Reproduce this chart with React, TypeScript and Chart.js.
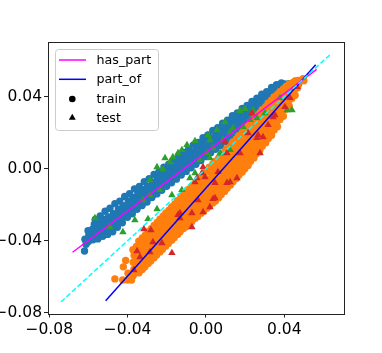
import React, { useEffect, useRef } from "react";
import { Chart, registerables } from "chart.js";

Chart.register(...registerables);

// ---- axis ticks ----
const xTickValues = [-0.08, -0.04, 0, 0.04];
const xTickLabels = ["\u22120.08", "\u22120.04", "0.00", "0.04"];
const yTickValues = [-0.08, -0.04, 0, 0.04];
const yTickLabels = ["\u22120.08", "\u22120.04", "0.00", "0.04"];
const xRange = [-0.0809, 0.0702];
const yRange = [-0.0807, 0.0702];

// ---- legend ----
const legendLabels = ["has_part", "part_of", "train", "test"];

// ---- fitted / reference lines (endpoints) ----
const identityLineX = [-0.074, 0.0635];
const identityLineY = [-0.074, 0.0635];
const hasPartFitX = [-0.0681, 0.0565];
const hasPartFitY = [-0.0464, 0.0552];
const partOfFitX = [-0.0512, 0.056];
const partOfFitY = [-0.0733, 0.0578];

// ---- has_part, train (blue circles) ----
const hasPartTrain: number[][] = [
  [-0.062, -0.0457], [-0.0618, -0.0392], [-0.0612, -0.042],
  [-0.06, -0.0405], [-0.0598, -0.037], [-0.0602, -0.0345],
  [-0.0577, -0.0395], [-0.0573, -0.0365], [-0.0578, -0.0335], [-0.057, -0.0308],
  [-0.0552, -0.039], [-0.0548, -0.036], [-0.0551, -0.033], [-0.0546, -0.03],
  [-0.0527, -0.0375], [-0.0523, -0.0345], [-0.0525, -0.0315], [-0.0521, -0.028],
  [-0.0502, -0.0365], [-0.0498, -0.033], [-0.0501, -0.03], [-0.0497, -0.0268],
  [-0.0476, -0.035], [-0.0474, -0.0315], [-0.0477, -0.0285], [-0.0472, -0.025],
  [-0.0452, -0.0325], [-0.0449, -0.029], [-0.0451, -0.026], [-0.0447, -0.0225],
  [-0.0427, -0.03], [-0.0424, -0.0268], [-0.0426, -0.0238], [-0.0423, -0.0205],
  [-0.0401, -0.027], [-0.0399, -0.024], [-0.0402, -0.021], [-0.0397, -0.018],
  [-0.0376, -0.025], [-0.0374, -0.022], [-0.0377, -0.019], [-0.0372, -0.016],
  [-0.0352, -0.0225], [-0.0349, -0.0195], [-0.0351, -0.0165], [-0.0348, -0.0135],
  [-0.0326, -0.0205], [-0.0324, -0.0175], [-0.0327, -0.0148], [-0.0322, -0.0115],
  [-0.0301, -0.0185], [-0.0299, -0.0155], [-0.0302, -0.0125], [-0.0298, -0.0098],
  [-0.0276, -0.016], [-0.0274, -0.0132], [-0.0277, -0.0102], [-0.0273, -0.0075],
  [-0.0251, -0.014], [-0.0249, -0.0112], [-0.0252, -0.0082], [-0.0248, -0.005],
  [-0.0226, -0.012], [-0.0224, -0.009], [-0.0227, -0.006], [-0.0223, -0.003],
  [-0.0201, -0.0098], [-0.0199, -0.007], [-0.0202, -0.004], [-0.0198, -0.0012],
  [-0.0176, -0.0078], [-0.0174, -0.005], [-0.0177, -0.002], [-0.0173, 0.001],
  [-0.0151, -0.0058], [-0.0149, -0.0028], [-0.0152, 0.0002], [-0.0148, 0.0032],
  [-0.0126, -0.0035], [-0.0124, -0.0008], [-0.0127, 0.0022], [-0.0123, 0.0055],
  [-0.0101, -0.0015], [-0.0099, 0.0012], [-0.0102, 0.0042], [-0.0098, 0.0072],
  [-0.0076, 0.0005], [-0.0074, 0.0032], [-0.0077, 0.0062], [-0.0073, 0.0092],
  [-0.0051, 0.0025], [-0.0049, 0.0052], [-0.0052, 0.0082], [-0.0048, 0.0112],
  [-0.0026, 0.0045], [-0.0024, 0.0072], [-0.0027, 0.0102], [-0.0023, 0.0135],
  [-0.0001, 0.0068], [0.0001, 0.0094], [-0.0002, 0.0124], [0.0002, 0.0155],
  [0.0024, 0.0088], [0.0026, 0.0114], [0.0023, 0.0145], [0.0027, 0.0172],
  [0.0049, 0.0108], [0.0051, 0.0135], [0.0048, 0.0165], [0.0052, 0.0195],
  [0.0074, 0.0128], [0.0076, 0.0155], [0.0073, 0.0185], [0.0077, 0.0215],
  [0.0099, 0.015], [0.0101, 0.0176], [0.0098, 0.0205], [0.0102, 0.0238],
  [0.0124, 0.017], [0.0126, 0.0196], [0.0123, 0.0225], [0.0127, 0.0255],
  [0.0149, 0.019], [0.0151, 0.0216], [0.0148, 0.0246], [0.0152, 0.0278],
  [0.0174, 0.021], [0.0176, 0.0236], [0.0173, 0.0266], [0.0177, 0.0296],
  [0.0199, 0.0232], [0.0201, 0.0258], [0.0198, 0.0288], [0.0202, 0.032],
  [0.0224, 0.0252], [0.0226, 0.0278], [0.0223, 0.0308], [0.0227, 0.034],
  [0.0249, 0.0274], [0.0251, 0.03], [0.0248, 0.033], [0.0252, 0.036],
  [0.0274, 0.0295], [0.0276, 0.032], [0.0273, 0.035], [0.0277, 0.038],
  [0.0299, 0.0318], [0.0301, 0.0342], [0.0298, 0.0372], [0.0302, 0.04],
  [0.0324, 0.0338], [0.0326, 0.0362], [0.0323, 0.0392], [0.0327, 0.0425],
  [0.0349, 0.0358], [0.0351, 0.0382], [0.0348, 0.0412], [0.0352, 0.044],
  [0.0374, 0.038], [0.0376, 0.0405], [0.0373, 0.0432], [0.0377, 0.0458],
  [0.0399, 0.0402], [0.0401, 0.0425], [0.0398, 0.0452], [0.0402, 0.047],
  [0.0424, 0.0425], [0.0426, 0.045], [0.0423, 0.0472],
  [0.0449, 0.0448], [0.0451, 0.0472], [0.0455, 0.0485],
  [0.0473, 0.047], [0.0478, 0.0488],
  // upper fringe of the cloud
  [-0.0565, -0.0282], [-0.054, -0.0262], [-0.0515, -0.0236], [-0.049, -0.022],
  [-0.0465, -0.0194], [-0.044, -0.018], [-0.0415, -0.0154], [-0.039, -0.0139],
  [-0.0365, -0.0112], [-0.034, -0.0098], [-0.0315, -0.0072], [-0.029, -0.0056],
  [-0.0265, -0.0032], [-0.024, -0.0016], [-0.0215, 0.0009], [-0.019, 0.0025],
  [-0.0165, 0.0049], [-0.014, 0.0066], [-0.0115, 0.009], [-0.009, 0.0106],
  [-0.0065, 0.0131], [-0.004, 0.0146], [-0.0015, 0.0172], [0.001, 0.0188],
  [0.0035, 0.0213], [0.006, 0.0228], [0.0085, 0.0253], [0.011, 0.0269],
  [0.0135, 0.0294], [0.016, 0.0309], [0.0185, 0.0334], [0.021, 0.0351],
  [0.0235, 0.0374], [0.026, 0.0391], [0.0285, 0.0414], [0.031, 0.0428],
  [0.0335, 0.0451], [0.036, 0.0466], [0.0385, 0.0476],
];

// ---- part_of, train (orange circles) ----
const partOfTrain: number[][] = [
  [-0.0465, -0.0612], [-0.0425, -0.0618], [-0.0422, -0.0545], [-0.041, -0.051],
  [-0.04, -0.0618], [-0.0398, -0.058], [-0.038, -0.0618],
  [-0.0372, -0.0595], [-0.0368, -0.0558], [-0.0371, -0.052], [-0.0367, -0.0482], [-0.0373, -0.045],
  [-0.0342, -0.0578], [-0.0338, -0.054], [-0.0341, -0.0502], [-0.0337, -0.0465], [-0.034, -0.0428], [-0.0343, -0.0402],
  [-0.0312, -0.0545], [-0.0308, -0.0508], [-0.0311, -0.047], [-0.0307, -0.0435], [-0.031, -0.0398], [-0.0309, -0.0368],
  [-0.0282, -0.0512], [-0.0278, -0.0478], [-0.0281, -0.044], [-0.0277, -0.0405], [-0.028, -0.0368], [-0.0279, -0.0333],
  [-0.0252, -0.048], [-0.0248, -0.0445], [-0.0251, -0.041], [-0.0247, -0.0372], [-0.025, -0.0335], [-0.0249, -0.0298],
  [-0.0222, -0.0447], [-0.0218, -0.0412], [-0.0221, -0.0375], [-0.0217, -0.0338], [-0.022, -0.03], [-0.0219, -0.0264],
  [-0.0192, -0.0415], [-0.0188, -0.0378], [-0.0191, -0.0342], [-0.0187, -0.0305], [-0.019, -0.0268], [-0.0189, -0.023],
  [-0.0162, -0.0383], [-0.0158, -0.0347], [-0.0161, -0.031], [-0.0157, -0.0272], [-0.016, -0.0235], [-0.0159, -0.0196],
  [-0.0132, -0.035], [-0.0128, -0.0314], [-0.0131, -0.0278], [-0.0127, -0.024], [-0.013, -0.0202], [-0.0129, -0.0163],
  [-0.0102, -0.0322], [-0.0098, -0.0285], [-0.0101, -0.0248], [-0.0097, -0.021], [-0.01, -0.017], [-0.0099, -0.013],
  [-0.0072, -0.0293], [-0.0068, -0.0256], [-0.0071, -0.0218], [-0.0067, -0.018], [-0.007, -0.014], [-0.0069, -0.0098],
  [-0.0042, -0.0265], [-0.0038, -0.0228], [-0.0041, -0.019], [-0.0037, -0.015], [-0.004, -0.011], [-0.0039, -0.0062],
  [-0.0012, -0.0237], [-0.0008, -0.02], [-0.0011, -0.0162], [-0.0007, -0.0122], [-0.001, -0.0082], [-0.0009, -0.0045], [-0.0013, -0.0027],
  [0.0018, -0.0208], [0.0022, -0.0172], [0.0019, -0.0135], [0.0023, -0.0096], [0.002, -0.0058], [0.0021, -0.002], [0.0017, 0.0008],
  [0.0048, -0.018], [0.0052, -0.0143], [0.0049, -0.0105], [0.0053, -0.0068], [0.005, -0.003], [0.0051, 0.0008], [0.0047, 0.0042],
  [0.0078, -0.0144], [0.0082, -0.0108], [0.0079, -0.007], [0.0083, -0.0032], [0.008, 0.0006], [0.0081, 0.0044], [0.0077, 0.0078],
  [0.0108, -0.0108], [0.0112, -0.0072], [0.0109, -0.0034], [0.0113, 0.0004], [0.011, 0.0042], [0.0111, 0.008], [0.0107, 0.0112],
  [0.0138, -0.0072], [0.0142, -0.0036], [0.0139, 0.0002], [0.0143, 0.004], [0.014, 0.0078], [0.0141, 0.0115], [0.0137, 0.0148],
  [0.0168, -0.0036], [0.0172, 0.0], [0.0169, 0.0038], [0.0173, 0.0076], [0.017, 0.0114], [0.0171, 0.015], [0.0167, 0.0183],
  [0.0198, 0.0], [0.0202, 0.0036], [0.0199, 0.0074], [0.0203, 0.0112], [0.02, 0.015], [0.0201, 0.0188], [0.0197, 0.022],
  [0.0228, 0.0042], [0.0232, 0.0078], [0.0229, 0.0115], [0.0233, 0.0152], [0.023, 0.019], [0.0231, 0.0226], [0.0227, 0.0258],
  [0.0258, 0.0084], [0.0262, 0.012], [0.0259, 0.0157], [0.0263, 0.0193], [0.026, 0.023], [0.0261, 0.0265], [0.0257, 0.0293],
  [0.0288, 0.0126], [0.0292, 0.0162], [0.0289, 0.0198], [0.0293, 0.0234], [0.029, 0.027], [0.0291, 0.0303], [0.0287, 0.0328],
  [0.0318, 0.0168], [0.0322, 0.0204], [0.0319, 0.024], [0.0323, 0.0276], [0.032, 0.031], [0.0321, 0.0342], [0.0317, 0.0364],
  [0.0348, 0.0215], [0.0352, 0.025], [0.0349, 0.0285], [0.0353, 0.032], [0.035, 0.0355], [0.0351, 0.0385], [0.0347, 0.0398],
  [0.0378, 0.0273], [0.0382, 0.0308], [0.0379, 0.0343], [0.0383, 0.0378], [0.038, 0.041], [0.0377, 0.0428],
  [0.0408, 0.033], [0.0412, 0.0365], [0.0409, 0.04], [0.0413, 0.0432], [0.041, 0.0458],
  [0.0438, 0.039], [0.0442, 0.0425], [0.0439, 0.0455], [0.0443, 0.0478],
  [0.0468, 0.045], [0.0472, 0.0475], [0.0469, 0.049],
  [0.0495, 0.05], [0.05, 0.0488],
  // points between the columns above
  [-0.0355, -0.0577], [-0.0355, -0.054], [-0.0355, -0.0502], [-0.0355, -0.0464], [-0.0355, -0.0432],
  [-0.0325, -0.056], [-0.0325, -0.0522], [-0.0325, -0.0484], [-0.0325, -0.0447], [-0.0325, -0.041], [-0.0325, -0.0384],
  [-0.0295, -0.0527], [-0.0295, -0.049], [-0.0295, -0.0452], [-0.0295, -0.0417], [-0.0295, -0.038], [-0.0295, -0.035],
  [-0.0265, -0.0494], [-0.0265, -0.046], [-0.0265, -0.0422], [-0.0265, -0.0387], [-0.0265, -0.035], [-0.0265, -0.0315],
  [-0.0235, -0.0462], [-0.0235, -0.0427], [-0.0235, -0.0392], [-0.0235, -0.0354], [-0.0235, -0.0317], [-0.0235, -0.028],
  [-0.0205, -0.0429], [-0.0205, -0.0394], [-0.0205, -0.0357], [-0.0205, -0.032], [-0.0205, -0.0282], [-0.0205, -0.0246],
  [-0.0175, -0.0397], [-0.0175, -0.036], [-0.0175, -0.0324], [-0.0175, -0.0287], [-0.0175, -0.025], [-0.0175, -0.0212],
  [-0.0145, -0.0365], [-0.0145, -0.0329], [-0.0145, -0.0292], [-0.0145, -0.0254], [-0.0145, -0.0217], [-0.0145, -0.0178],
  [-0.0115, -0.0332], [-0.0115, -0.0296], [-0.0115, -0.026], [-0.0115, -0.0222], [-0.0115, -0.0184], [-0.0115, -0.0145],
  [-0.0085, -0.0304], [-0.0085, -0.0267], [-0.0085, -0.023], [-0.0085, -0.0192], [-0.0085, -0.0152], [-0.0085, -0.0112],
  [-0.0055, -0.0275], [-0.0055, -0.0238], [-0.0055, -0.02], [-0.0055, -0.0162], [-0.0055, -0.0122], [-0.0055, -0.008],
  [-0.0025, -0.0247], [-0.0025, -0.021], [-0.0025, -0.0172], [-0.0025, -0.0132], [-0.0025, -0.0092], [-0.0025, -0.0044],
  [0.0005, -0.0219], [0.0005, -0.0182], [0.0005, -0.0144], [0.0005, -0.0104], [0.0005, -0.0064], [0.0005, -0.001],
  [0.0035, -0.019], [0.0035, -0.0154], [0.0035, -0.0117], [0.0035, -0.0078], [0.0035, -0.004], [0.0035, -0.0002], [0.0035, 0.0026],
  [0.0065, -0.0162], [0.0065, -0.0125], [0.0065, -0.0087], [0.0065, -0.005], [0.0065, -0.0012], [0.0065, 0.0026], [0.0065, 0.006],
  [0.0095, -0.0126], [0.0095, -0.009], [0.0095, -0.0052], [0.0095, -0.0014], [0.0095, 0.0024], [0.0095, 0.0062], [0.0095, 0.0094],
  [0.0125, -0.009], [0.0125, -0.0054], [0.0125, -0.0016], [0.0125, 0.0022], [0.0125, 0.006], [0.0125, 0.0098], [0.0125, 0.0128],
  [0.0155, -0.0054], [0.0155, -0.0018], [0.0155, 0.002], [0.0155, 0.0058], [0.0155, 0.0096], [0.0155, 0.0133], [0.0155, 0.0165],
  [0.0185, -0.0018], [0.0185, 0.0018], [0.0185, 0.0056], [0.0185, 0.0094], [0.0185, 0.0132], [0.0185, 0.0168], [0.0185, 0.02],
  [0.0215, 0.0018], [0.0215, 0.0054], [0.0215, 0.0092], [0.0215, 0.013], [0.0215, 0.0168], [0.0215, 0.0205], [0.0215, 0.0238],
  [0.0245, 0.006], [0.0245, 0.0096], [0.0245, 0.0133], [0.0245, 0.017], [0.0245, 0.0208], [0.0245, 0.0243], [0.0245, 0.0275],
  [0.0275, 0.0102], [0.0275, 0.0138], [0.0275, 0.0175], [0.0275, 0.0211], [0.0275, 0.0248], [0.0275, 0.0282], [0.0275, 0.031],
  [0.0305, 0.0144], [0.0305, 0.018], [0.0305, 0.0216], [0.0305, 0.0252], [0.0305, 0.0288], [0.0305, 0.032], [0.0305, 0.0345],
  [0.0335, 0.0186], [0.0335, 0.0222], [0.0335, 0.0258], [0.0335, 0.0294], [0.0335, 0.0328], [0.0335, 0.0358], [0.0335, 0.038],
  [0.0365, 0.0233], [0.0365, 0.0268], [0.0365, 0.0303], [0.0365, 0.0338], [0.0365, 0.0372], [0.0365, 0.04], [0.0365, 0.0413],
  [0.0395, 0.0291], [0.0395, 0.0326], [0.0395, 0.0361], [0.0395, 0.0396], [0.0395, 0.0428], [0.0395, 0.0443],
  [0.0425, 0.0348], [0.0425, 0.0383], [0.0425, 0.0418], [0.0425, 0.045], [0.0425, 0.047],
  [0.0455, 0.0408], [0.0455, 0.0443], [0.0455, 0.047], [0.0455, 0.0488],
];

// ---- has_part, test (green triangles) ----
const hasPartTest: number[][] = [
  [-0.0567, -0.0274], [-0.049, -0.0324], [-0.0424, -0.0352], [-0.0363, -0.0285],
  [-0.0296, -0.0279], [-0.025, -0.0224], [-0.0286, -0.0146], [-0.0235, -0.0118],
  [-0.0322, -0.0174], [-0.0174, -0.0146], [-0.0123, -0.0118], [-0.0286, -0.0063],
  [-0.025, 0.0009], [-0.022, -0.0002], [-0.0209, 0.0059], [-0.0184, 0.0037],
  [-0.0169, 0.0065], [-0.0143, 0.0087], [-0.0123, 0.0104], [-0.0097, 0.0132],
  [-0.0056, 0.0154], [0.002, 0.0159], [-0.0031, 0.0048], [0.0005, 0.0087],
  [0.0036, 0.0115], [-0.0082, -0.0052], [-0.0056, -0.0024], [0.002, 0.0059],
  [0.0072, 0.0087], [0.0087, 0.0159], [0.0123, 0.0204], [0.0123, 0.0104],
  [0.0056, 0.0215], [0.0097, 0.0259], [0.0138, 0.0226], [0.0174, 0.0321],
  [0.0199, 0.0332], [0.0189, 0.0232], [0.0225, 0.0271], [0.024, 0.0326],
  [0.026, 0.0282], [0.0301, 0.0309], [0.0414, 0.0326], [0.0439, 0.0326],
  [0.0378, 0.0393], [0.001, 0.0187],
];

// ---- part_of, test (red triangles) ----
const partOfTest: number[][] = [
  [-0.0317, -0.0335], [-0.0281, -0.0341], [-0.0174, -0.0468], [-0.0072, -0.0324],
  [-0.0352, -0.0457], [-0.0337, -0.0491], [-0.0271, -0.0407], [-0.0286, -0.0463],
  [-0.0072, -0.0246], [-0.0133, -0.0246], [-0.0056, -0.0074], [0.002, -0.0213],
  [0.0036, -0.0168], [-0.0041, -0.0174], [0.0107, -0.0079], [0.0046, -0.0079],
  [-0.0368, -0.0563], [-0.0143, -0.0257], [0.0158, -0.0052], [0.0123, -0.0074],
  [0.0046, -0.0163], [-0.0015, -0.0241], [0.0097, 0.0148], [0.0215, 0.0198],
  [0.026, 0.0171], [-0.0015, 0.0009], [-0.0005, -0.0046], [0.0352, 0.0298],
  [0.0429, 0.0393], [0.0403, 0.0343], [0.0317, 0.0243], [0.0174, 0.0087],
  [0.0266, 0.0187], [0.0342, 0.0287], [0.0291, 0.0176], [0.0465, 0.0454],
  [0.0107, 0.0087], [0.0235, 0.0309], [-0.0046, -0.0052], [-0.002, -0.0024],
  [0.0061, -0.0018], [-0.0225, -0.0413], [-0.0133, -0.0274], [0.0276, 0.0087],
];

const toPoints = (pairs: number[][]) => pairs.map(([x, y]) => ({ x, y }));
const toLine = (xs: number[], ys: number[]) => xs.map((x, i) => ({ x, y: ys[i] }));

const COLORS = {
  hasPartTrain: "#1f77b4",
  partOfTrain: "#ff7f0e",
  hasPartTest: "#2ca02c",
  partOfTest: "#d62728",
  hasPartLine: "#ff00ff",
  partOfLine: "#0000ff",
  identity: "#00ffff",
};

const FONT = "'DejaVu Sans', 'Liberation Sans', sans-serif";

const framePlugin = {
  id: "frame",
  afterDatasetsDraw(chart: any) {
    const { ctx, chartArea } = chart;
    ctx.save();
    ctx.strokeStyle = "#222";
    ctx.lineWidth = 1;
    ctx.strokeRect(
      Math.round(chartArea.left) + 0.5,
      Math.round(chartArea.top) + 0.5,
      Math.round(chartArea.right) - Math.round(chartArea.left),
      Math.round(chartArea.bottom) - Math.round(chartArea.top)
    );
    ctx.restore();
  },
};

const legendPlugin = {
  id: "customLegend",
  afterDraw(chart: any) {
    const { ctx, chartArea } = chart;
    const L = chartArea.left;
    const T = chartArea.top;
    ctx.save();
    const bx = Math.round(L + 7) + 0.5;
    const by = Math.round(T + 7) + 0.5;
    const bw = 103;
    const bh = 81;
    ctx.beginPath();
    if ((ctx as any).roundRect) (ctx as any).roundRect(bx, by, bw, bh, 3);
    else ctx.rect(bx, by, bw, bh);
    ctx.fillStyle = "rgba(255,255,255,0.8)";
    ctx.fill();
    ctx.strokeStyle = "#cccccc";
    ctx.lineWidth = 1;
    ctx.stroke();

    const rows = [T + 17.7, T + 37, T + 56.7, T + 75.4];
    const hx0 = L + 11.5;
    const hx1 = L + 38.5;
    const hmid = L + 24.8;
    const tx = L + 49;

    ctx.lineWidth = 1.5;
    ctx.strokeStyle = COLORS.hasPartLine;
    ctx.beginPath();
    ctx.moveTo(hx0, rows[0]);
    ctx.lineTo(hx1, rows[0]);
    ctx.stroke();
    ctx.strokeStyle = COLORS.partOfLine;
    ctx.beginPath();
    ctx.moveTo(hx0, rows[1]);
    ctx.lineTo(hx1, rows[1]);
    ctx.stroke();

    ctx.fillStyle = "#000";
    ctx.beginPath();
    ctx.arc(hmid, rows[2], 3.3, 0, Math.PI * 2);
    ctx.fill();
    const r = 4;
    ctx.beginPath();
    ctx.moveTo(hmid, rows[3] - r);
    ctx.lineTo(hmid + r * 0.866, rows[3] + r * 0.5);
    ctx.lineTo(hmid - r * 0.866, rows[3] + r * 0.5);
    ctx.closePath();
    ctx.fill();

    ctx.font = `12.7px ${FONT}`;
    ctx.fillStyle = "#000";
    ctx.textAlign = "left";
    ctx.textBaseline = "middle";
    legendLabels.forEach((lab, i) => ctx.fillText(lab, tx, rows[i] + 0.5));
    ctx.restore();
  },
};

export default function App() {
  const canvasRef = useRef<HTMLCanvasElement | null>(null);

  useEffect(() => {
    document.body.style.margin = "0";
    const canvas = canvasRef.current;
    if (!canvas) return;

    const scatterDs = (label: string, pairs: number[][], color: string, style: string, radius: number, order: number) => ({
      type: "scatter" as const,
      label,
      data: toPoints(pairs),
      backgroundColor: color,
      borderColor: color,
      borderWidth: 0,
      pointStyle: style,
      pointRadius: radius,
      pointHoverRadius: radius,
      order,
    });

    const lineDs = (label: string, xs: number[], ys: number[], color: string, dash: number[], order: number) => ({
      type: "scatter" as const,
      label,
      data: toLine(xs, ys),
      showLine: true,
      borderColor: color,
      backgroundColor: color,
      borderWidth: 1.5,
      borderDash: dash,
      pointRadius: 0,
      pointHoverRadius: 0,
      fill: false,
      order,
    });

    const chart = new Chart(canvas, {
      type: "scatter",
      data: {
        datasets: [
          lineDs("identity", identityLineX, identityLineY, COLORS.identity, [5, 2.5], 0),
          lineDs("has_part fit", hasPartFitX, hasPartFitY, COLORS.hasPartLine, [], 1),
          lineDs("part_of fit", partOfFitX, partOfFitY, COLORS.partOfLine, [], 2),
          scatterDs("part_of test", partOfTest, COLORS.partOfTest, "triangle", 4.3, 3),
          scatterDs("has_part test", hasPartTest, COLORS.hasPartTest, "triangle", 4.3, 4),
          scatterDs("part_of train", partOfTrain, COLORS.partOfTrain, "circle", 3.7, 5),
          scatterDs("has_part train", hasPartTrain, COLORS.hasPartTrain, "circle", 3.7, 6),
        ] as any,
      },
      options: {
        responsive: false,
        animation: false,
        devicePixelRatio: 1,
        layout: { padding: { left: 0, top: 42.3, right: 38.5, bottom: 0 } },
        plugins: {
          legend: { display: false },
          tooltip: { enabled: false },
        },
        scales: {
          x: {
            type: "linear",
            min: xRange[0],
            max: xRange[1],
            afterBuildTicks: (scale: any) => {
              scale.ticks = xTickValues.map((v) => ({ value: v }));
            },
            afterFit: (scale: any) => {
              scale.height = 39;
            },
            ticks: {
              autoSkip: false,
              maxRotation: 0,
              padding: 3,
              color: "#000",
              font: { family: FONT, size: 15.5 },
              callback: (_v: any, i: number) => xTickLabels[i],
            },
            grid: {
              drawOnChartArea: false,
              drawTicks: true,
              tickLength: 3.5,
              color: "#222",
              lineWidth: 1,
            },
            border: { display: false },
          },
          y: {
            type: "linear",
            min: yRange[0],
            max: yRange[1],
            afterBuildTicks: (scale: any) => {
              scale.ticks = yTickValues.map((v) => ({ value: v }));
            },
            afterFit: (scale: any) => {
              scale.width = 47.5;
            },
            ticks: {
              autoSkip: false,
              padding: 2,
              color: "#000",
              font: { family: FONT, size: 15.5 },
              callback: (_v: any, i: number) => yTickLabels[i],
            },
            grid: {
              drawOnChartArea: false,
              drawTicks: true,
              tickLength: 3.5,
              color: "#222",
              lineWidth: 1,
            },
            border: { display: false },
          },
        },
      },
      plugins: [framePlugin, legendPlugin],
    } as any);

    return () => chart.destroy();
  }, []);

  return (
    <div style={{ position: "absolute", left: 0, top: 0, width: 382, height: 353, background: "#fff" }}>
      <canvas ref={canvasRef} width={382} height={353} style={{ width: 382, height: 353 }} />
    </div>
  );
}
